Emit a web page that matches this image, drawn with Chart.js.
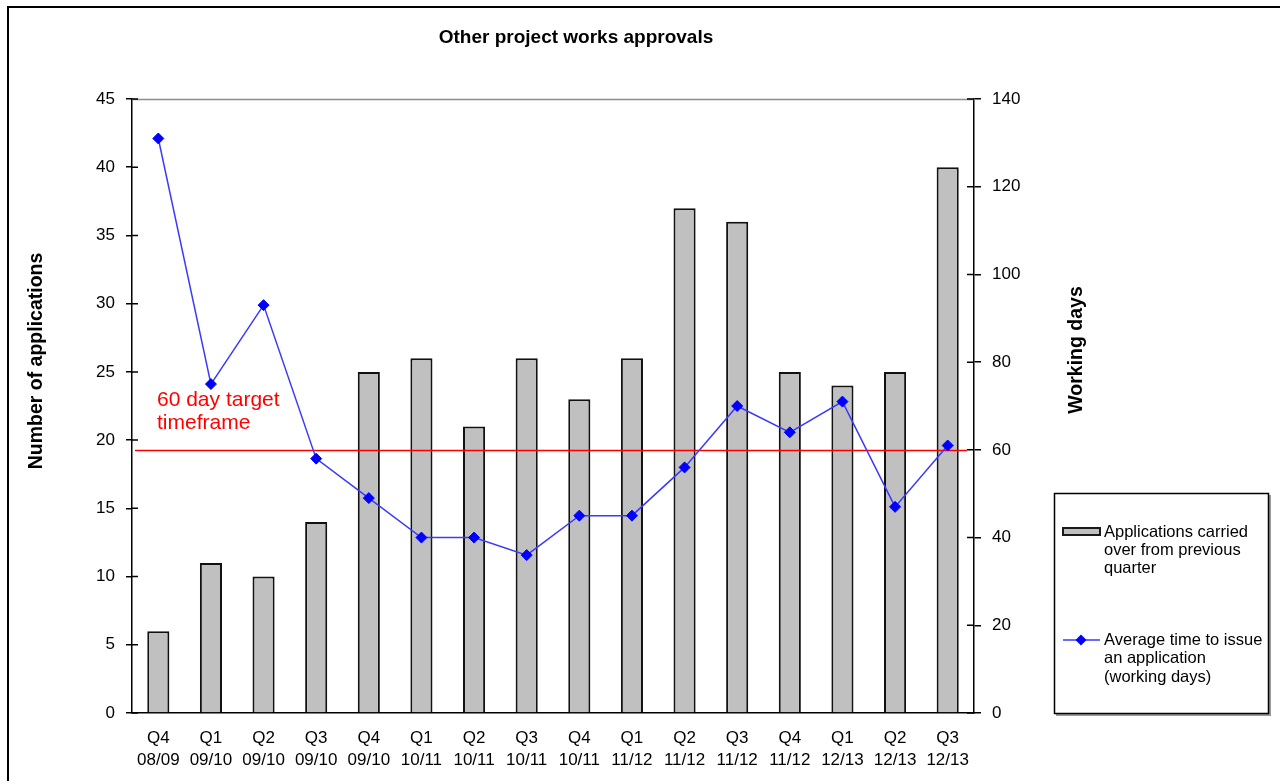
<!DOCTYPE html>
<html>
<head>
<meta charset="utf-8">
<title>Other project works approvals</title>
<script src="https://cdn.jsdelivr.net/npm/chart.js@4.4.1/dist/chart.umd.min.js"></script>
<style>
  html, body { margin: 0; padding: 0; background: #fff; overflow: hidden; }
  #wrap { position: relative; width: 1280px; height: 781px; }
</style>
</head>
<body>
<div id="wrap"><canvas id="chart" width="1280" height="781"></canvas></div>
<script>
// Data
const quarters = [
    ['Q4', '08/09'], ['Q1', '09/10'], ['Q2', '09/10'], ['Q3', '09/10'],
    ['Q4', '09/10'], ['Q1', '10/11'], ['Q2', '10/11'], ['Q3', '10/11'],
    ['Q4', '10/11'], ['Q1', '11/12'], ['Q2', '11/12'], ['Q3', '11/12'],
    ['Q4', '11/12'], ['Q1', '12/13'], ['Q2', '12/13'], ['Q3', '12/13']
];
const carriedOver = [6, 11, 10, 14, 25, 26, 21, 26, 23, 26, 37, 36, 25, 24, 25, 40];
const avgDays = [131, 75, 93, 58, 49, 40, 40, 36, 45, 45, 56, 70, 64, 71, 47, 61];
const targetDays = 60;
const leftAxis = { max: 45, step: 5 };
const rightAxis = { max: 140, step: 20 };

const chartTitle = 'Other project works approvals';
const leftTitle = 'Number of applications';
const rightTitle = 'Working days';
const targetLabel = ['60 day target', 'timeframe'];
const barLegend = ['Applications carried', 'over from previous', 'quarter'];
const lineLegend = ['Average time to issue', 'an application', '(working days)'];

const FONT = "'Liberation Sans', Arial, sans-serif";
Chart.defaults.font.family = FONT;
Chart.defaults.color = '#000';

// Everything the library has no option for: frame, titles, target line, legend
const decor = {
    id: 'decor',
    beforeDraw(chart) {
        const ctx = chart.ctx;
        ctx.save();
        ctx.strokeStyle = '#000';
        ctx.lineWidth = 2;
        ctx.beginPath();
        ctx.moveTo(8, 790);
        ctx.lineTo(8, 7);
        ctx.lineTo(1290, 7);
        ctx.stroke();
        ctx.restore();
    },
    afterDatasetDraw(chart, args) {
        if (args.index !== 0) return;
        const ctx = chart.ctx;
        const area = chart.chartArea;
        const y = Math.round(chart.scales.y1.getPixelForValue(targetDays)) + 0.5;
        ctx.save();
        ctx.strokeStyle = '#ff0000';
        ctx.lineWidth = 1.3;
        ctx.beginPath();
        ctx.moveTo(area.left + 3, y);
        ctx.lineTo(area.right - 7, y);
        ctx.stroke();
        ctx.restore();
    },
    afterDraw(chart) {
        const ctx = chart.ctx;
        const area = chart.chartArea;
        const yl = chart.scales.y;
        const yr = chart.scales.y1;
        ctx.save();

        // top edge of plot
        ctx.strokeStyle = '#8c8c8c';
        ctx.lineWidth = 1.3;
        ctx.beginPath();
        ctx.moveTo(area.left, area.top + 0.5);
        ctx.lineTo(area.right, area.top + 0.5);
        ctx.stroke();

        // inner halves of tick marks
        ctx.strokeStyle = '#000';
        ctx.lineWidth = 1.5;
        ctx.beginPath();
        yl.ticks.forEach(t => {
            const p = yl.getPixelForValue(t.value);
            ctx.moveTo(area.left, p);
            ctx.lineTo(area.left + 6, p);
        });
        yr.ticks.forEach(t => {
            const p = yr.getPixelForValue(t.value);
            ctx.moveTo(area.right - 7, p);
            ctx.lineTo(area.right, p);
        });
        ctx.stroke();

        // chart title
        ctx.fillStyle = '#000';
        ctx.textAlign = 'center';
        ctx.textBaseline = 'middle';
        ctx.font = 'bold 19px ' + FONT;
        ctx.fillText(chartTitle, 576, 38);

        // axis titles
        ctx.font = 'bold 19.5px ' + FONT;
        ctx.save();
        ctx.translate(37, 361);
        ctx.rotate(-Math.PI / 2);
        ctx.fillText(leftTitle, 0, 0);
        ctx.restore();
        ctx.save();
        ctx.translate(1077, 350);
        ctx.rotate(-Math.PI / 2);
        ctx.fillText(rightTitle, 0, 0);
        ctx.restore();

        // target annotation
        ctx.fillStyle = '#ff0000';
        ctx.textAlign = 'left';
        ctx.font = '21px ' + FONT;
        targetLabel.forEach((s, i) => ctx.fillText(s, 157, 400 + i * 23));

        // legend
        const bx = 1054, by = 493, bw = 214, bh = 220;
        ctx.strokeStyle = '#9a9a9a';
        ctx.lineWidth = 2;
        ctx.beginPath();
        ctx.moveTo(bx + bw + 2, by + 2);
        ctx.lineTo(bx + bw + 2, by + bh + 2);
        ctx.lineTo(bx + 2, by + bh + 2);
        ctx.stroke();
        ctx.strokeStyle = '#000';
        ctx.lineWidth = 1.5;
        ctx.strokeRect(bx + 0.5, by + 0.5, bw, bh);

        ctx.fillStyle = '#c0c0c0';
        ctx.fillRect(1063, 528, 37, 7);
        ctx.strokeStyle = '#1a1a1a';
        ctx.lineWidth = 2;
        ctx.strokeRect(1063, 528, 37, 7);

        ctx.strokeStyle = '#3a3aff';
        ctx.lineWidth = 1.5;
        ctx.beginPath();
        ctx.moveTo(1063, 640);
        ctx.lineTo(1100, 640);
        ctx.stroke();
        ctx.fillStyle = '#0000ff';
        ctx.beginPath();
        ctx.moveTo(1081, 634.5);
        ctx.lineTo(1086.5, 640);
        ctx.lineTo(1081, 645.5);
        ctx.lineTo(1075.5, 640);
        ctx.closePath();
        ctx.fill();

        ctx.fillStyle = '#000';
        ctx.font = '16.5px ' + FONT;
        barLegend.forEach((s, i) => ctx.fillText(s, 1104, 532 + i * 18));
        lineLegend.forEach((s, i) => ctx.fillText(s, 1104, 640 + i * 18.5));

        ctx.restore();
    }
};

const tickGrid = len => ({
    drawOnChartArea: false,
    drawTicks: true,
    tickLength: len,
    color: '#000',
    lineWidth: 1.5
});

new Chart(document.getElementById('chart'), {
    type: 'bar',
    data: {
        labels: quarters,
        datasets: [{
            type: 'bar',
            label: barLegend.join(' '),
            data: carriedOver,
            yAxisID: 'y',
            backgroundColor: '#c0c0c0',
            borderColor: '#111',
            borderWidth: 2,
            barPercentage: 0.42,
            categoryPercentage: 1,
            order: 1
        }, {
            type: 'line',
            label: lineLegend.join(' '),
            data: avgDays,
            yAxisID: 'y1',
            borderColor: '#3a3aff',
            borderWidth: 1.5,
            pointStyle: 'rectRot',
            pointRadius: 5.5,
            pointBackgroundColor: '#0000ff',
            pointBorderColor: '#0000ff',
            pointBorderWidth: 1,
            tension: 0,
            order: 0
        }]
    },
    options: {
        responsive: false,
        animation: false,
        layout: { padding: { top: 99, left: 0, right: 0, bottom: 0 }, autoPadding: false },
        plugins: {
            legend: { display: false },
            tooltip: { enabled: false },
            title: { display: false }
        },
        scales: {
            x: {
                offset: true,
                grid: { display: false, drawTicks: false },
                border: { display: true, color: '#000', width: 1.5 },
                ticks: {
                    padding: 15,
                    maxRotation: 0,
                    autoSkip: false,
                    color: '#000',
                    font: { size: 17, lineHeight: 1.25 }
                },
                afterFit: s => { s.height = 68; }
            },
            y: {
                position: 'left',
                min: 0,
                max: leftAxis.max,
                ticks: { stepSize: leftAxis.step, padding: 11, color: '#000', font: { size: 17 } },
                grid: tickGrid(6),
                border: { display: true, color: '#000', width: 1.5 },
                afterFit: s => { s.width = 132; }
            },
            y1: {
                position: 'right',
                min: 0,
                max: rightAxis.max,
                ticks: { stepSize: rightAxis.step, padding: 11, color: '#000', font: { size: 17 } },
                grid: tickGrid(7),
                border: { display: true, color: '#000', width: 1.5 },
                afterFit: s => { s.width = 306; }
            }
        }
    },
    plugins: [decor]
});
</script>
</body>
</html>
